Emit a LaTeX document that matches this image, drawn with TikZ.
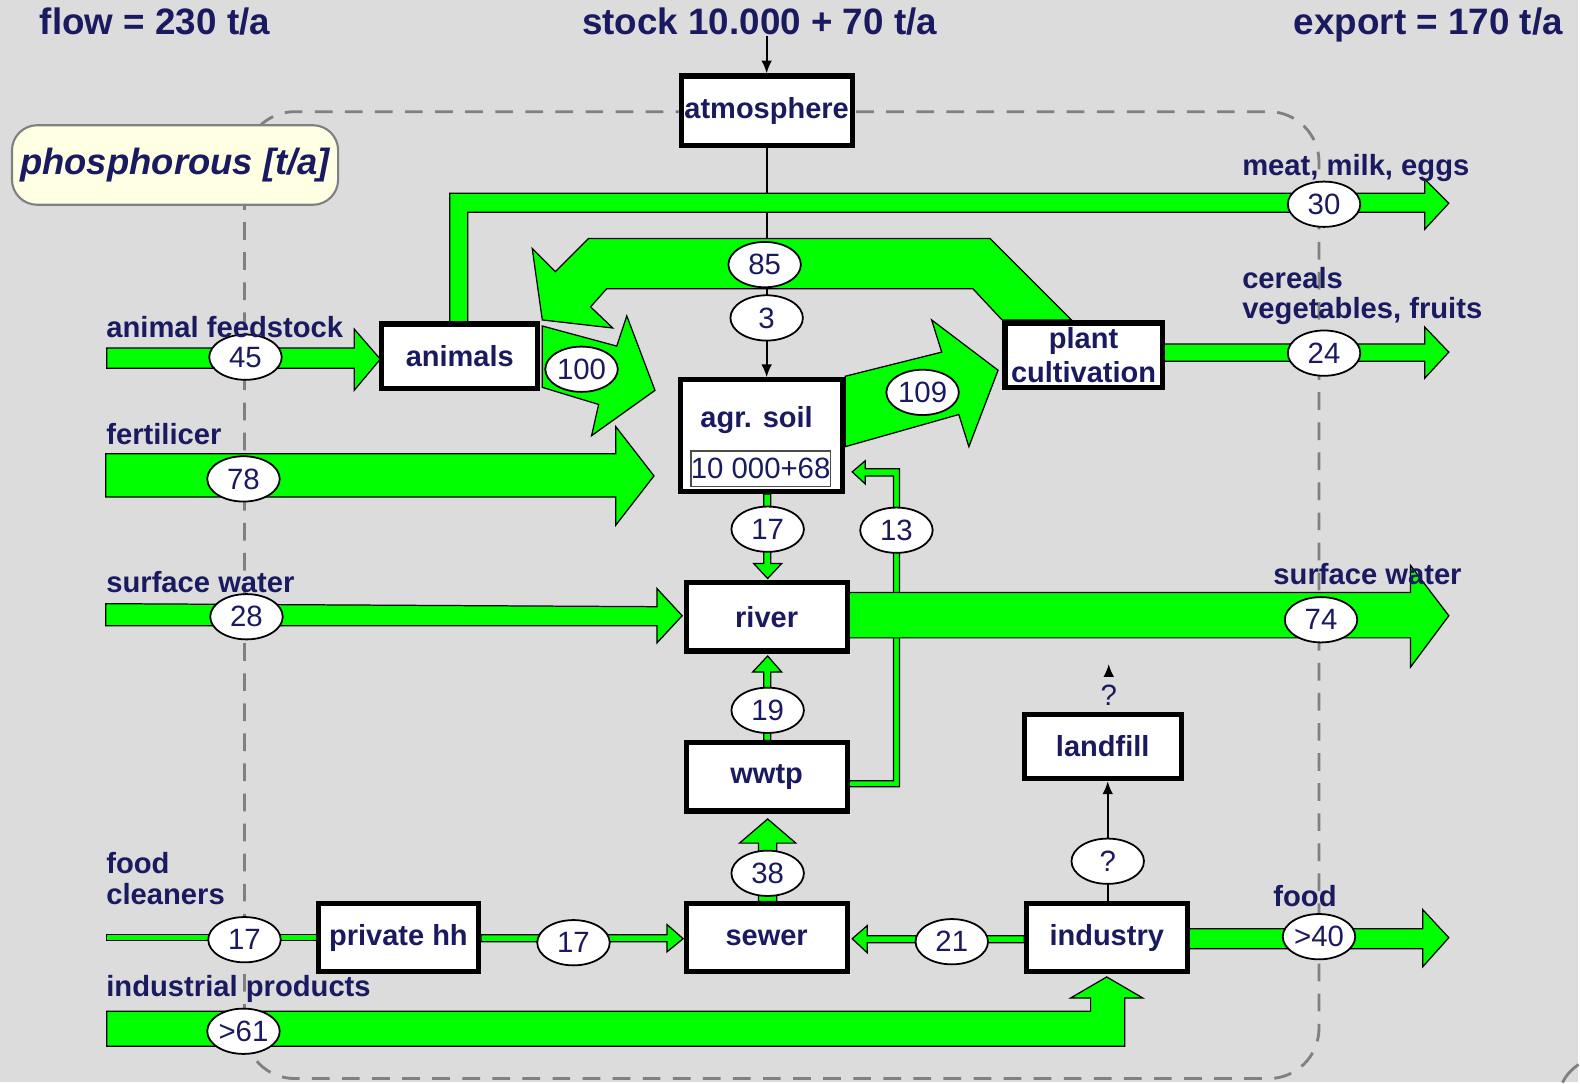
\documentclass[tikz,border=0pt]{standalone}
\usepackage{fontspec}
\setmainfont{Liberation Sans}
\usetikzlibrary{arrows.meta, shapes.geometric, backgrounds}

\definecolor{navy}{RGB}{26,26,96}
\definecolor{slide}{RGB}{220,220,220}
\definecolor{cream}{RGB}{255,255,228}
\definecolor{dashgray}{RGB}{128,128,128}

\begin{document}
\begin{tikzpicture}[x=0.01cm, y=-0.01cm,
    box/.style={draw=black, line width=1.45pt, fill=white, text=navy, inner sep=0pt,
        align=center, font=\fontsize{8.2}{9.7}\selectfont\bfseries},
    num/.style={ellipse, draw=black, line width=0.5pt, fill=white, text=navy, inner sep=0pt,
        minimum width=0.72cm, minimum height=0.45cm, font=\fontsize{8.3}{10}\selectfont},
    sidetext/.style={anchor=base west, inner sep=0pt, text=navy, align=left,
        font=\fontsize{8.25}{8.7}\selectfont\bfseries},
    headline/.style={inner sep=0pt, text=navy, font=\fontsize{10.4}{12}\selectfont\bfseries},
    stream/.style={fill=green, draw=black, line width=0.35pt},
    pointer/.style={-{Latex[length=3.6pt,width=3pt]}, line width=0.5pt}]

    % Slide and system boundary
    \begin{scope}[on background layer]
        \fill[slide] (0,0) rectangle (1568,1075);
        \draw[dashgray, line width=0.8pt, dash pattern=on 5pt off 3.5pt, rounded corners=0.5cm]
            (243,111) rectangle (1311,1072);
        \draw[dashgray, line width=0.8pt] (1553,1076) .. controls (1557,1068) and (1562,1063) .. (1569,1058);
    \end{scope}
    \useasboundingbox (0,0) rectangle (1568,1075);

    % Titles
    \node[headline, anchor=base west] (flowtitle) at (39,34) {flow = 230 t/a};
    \node[headline, anchor=base] (stocktitle) at (755,34) {stock 10.000 + 70 t/a};
    \node[headline, anchor=base east] (exporttitle) at (1554,34) {export = 170 t/a};
    \node[draw=gray, line width=0.6pt, fill=cream, rounded corners=0.25cm, minimum width=3.24cm,
        minimum height=0.79cm, inner sep=1pt, text=navy, font=\fontsize{10.3}{12}\selectfont\bfseries\itshape]
        (legend) at (174,164) {phosphorous [t/a]};

    % Flows
    \draw[stream] (106,346) -- (352,346) -- (352,327) -- (378,357) -- (352,388) -- (352,366) -- (106,366) -- cycle;
    \draw[stream] (105,451) -- (612,451) -- (612,424) -- (650,473) -- (612,522) -- (612,494) -- (105,494) -- cycle;
    \draw[stream] (105,600) -- (653,603) -- (653,585) -- (678,612) -- (653,639) -- (653,622) -- (105,622) -- cycle;
    \draw[stream] (539,324) -- (613,344) -- (623,314) -- (651,388) -- (588,433) -- (595,402) -- (539,385) -- cycle;
    \draw[stream] (1065,318) -- (984,237) -- (585,237) -- (552,270) -- (529,247) -- (539,318) -- (609,326)
        -- (587,305) -- (603,287) -- (967,287) -- (996,318) -- cycle;
    \draw[stream] (840,374) -- (936,350) -- (926,318) -- (992,368) -- (963,444) -- (953,412) -- (840,444) -- cycle;
    \draw[stream] (447,320) -- (447,192) -- (1416,192) -- (1416,178) -- (1440,202) -- (1416,228) -- (1416,211)
        -- (465,211) -- (465,320) -- cycle;
    \draw[stream] (1157,342) -- (1416,342) -- (1416,325) -- (1440,350) -- (1416,376) -- (1416,359) -- (1157,359) -- cycle;
    \draw[stream] (759,491) -- (766,491) -- (766,560) -- (777,560) -- (763,575) -- (749,560) -- (759,560) -- cycle;
    \draw[stream] (844,776) -- (888,776) -- (888,473) -- (860,473) -- (860,481) -- (847,469) -- (860,458)
        -- (860,466) -- (894,466) -- (894,782) -- (844,782) -- cycle;
    \draw[stream] (844,589) -- (1402,589) -- (1402,562) -- (1440,612) -- (1402,663) -- (1402,634) -- (844,634) -- cycle;
    \draw[stream] (759,736) -- (759,668) -- (748,668) -- (763,652) -- (777,668) -- (766,668) -- (766,736) -- cycle;
    \draw[stream] (754,896) -- (754,838) -- (735,838) -- (763,814) -- (791,838) -- (772,838) -- (772,896) -- cycle;
    \draw[stream] (106,929) -- (315,929) -- (315,935) -- (106,935) -- cycle;
    \draw[stream] (478,929) -- (663,929) -- (663,919) -- (679,933) -- (663,946) -- (663,936) -- (478,936) -- cycle;
    \draw[stream] (1018,930) -- (862,930) -- (862,920) -- (847,933) -- (862,947) -- (862,937) -- (1018,937) -- cycle;
    \draw[stream] (1182,923) -- (1414,923) -- (1414,904) -- (1440,932) -- (1414,961) -- (1414,943) -- (1182,943) -- cycle;
    \draw[stream] (106,1005) -- (1084,1005) -- (1084,992) -- (1064,992) -- (1100,971) -- (1136,992) -- (1118,992)
        -- (1118,1040) -- (106,1040) -- cycle;

    % Processes
    \node[box, minimum width=1.70cm, minimum height=0.69cm] (atmo) at (762,110) {atmosphere};
    \node[box, minimum width=1.55cm, minimum height=0.64cm] (animals) at (457,354) {animals};
    \node[box, minimum width=1.56cm, minimum height=0.64cm] (plant) at (1077,353) {plant\\cultivation};
    \node[box, minimum width=1.61cm, minimum height=1.11cm] (soil) at (757,433) {};
    \node[text=navy, inner sep=0pt, font=\fontsize{8.2}{9.7}\selectfont\bfseries] (soilname) at (752,418) {agr. soil};
    \node[draw=black!70, line width=0.5pt, fill=white, text=navy, inner sep=0pt, minimum width=1.36cm,
        minimum height=0.35cm, font=\fontsize{8.3}{10}\selectfont] (soilstock) at (756,466) {10 000+68};
    \node[box, minimum width=1.60cm, minimum height=0.68cm] (river) at (762,613) {river};
    \node[box, minimum width=1.60cm, minimum height=0.68cm] (wwtp) at (762,772) {wwtp};
    \node[box, minimum width=1.56cm, minimum height=0.64cm] (landfill) at (1096,742) {landfill};
    \node[box, minimum width=1.59cm, minimum height=0.68cm] (privhh) at (396,932) {private hh};
    \node[box, minimum width=1.60cm, minimum height=0.68cm] (sewer) at (762,932) {sewer};
    \node[box, minimum width=1.60cm, minimum height=0.68cm] (industry) at (1100,932) {industry};

    % Flow values
    \node[num] (n45) at (244,355) {45};
    \node[num] (n78) at (242,476) {78};
    \node[num] (n28) at (245,613) {28};
    \node[num] (n17in) at (243,934) {17};
    \node[num] (n61) at (242,1025) {>61};
    \node[num] (n100) at (578,367) {100};
    \node[num] (n85) at (760,263) {85};
    \node[num] (n3) at (762,316) {3};
    \node[num] (n109) at (917,390) {109};
    \node[num] (n17soil) at (763,526) {17};
    \node[num] (n13) at (891,527) {13};
    \node[num] (n74) at (1313,616) {74};
    \node[num] (n19) at (763,706) {19};
    \node[num] (n38) at (763,868) {38};
    \node[num] (n17hh) at (570,937) {17};
    \node[num] (n21) at (946,936) {21};
    \node[num] (nq) at (1101,856) {?};
    \node[num] (n40) at (1311,931) {>40};
    \node[num] (n30) at (1316,203) {30};
    \node[num] (n24) at (1316,351) {24};

    % Thin links
    \begin{scope}[on background layer]
        \draw[pointer] (atmo.south) -- (atmo.south |- soil.north);
        \draw[pointer] (nq |- industry.north) -- (nq |- landfill.south);
    \end{scope}
    \draw[pointer] (atmo.north |- stocktitle.south) -- (atmo.north);
    \node[text=navy, font=\fontsize{8.3}{10}\selectfont] (lfq) at (1102,691) {?};
    \coordinate (lfout) at (1102,660);
    \draw[pointer] (lfq.north) -- (lfout);

    % Labels
    \node[sidetext] (feedtext) at (105,335) {animal feedstock};
    \node[sidetext] (fertext) at (105,442) {fertilicer};
    \node[sidetext] (swin) at (105,589) {surface water};
    \node[sidetext] (foodin) at (105,899) {food\\cleaners};
    \node[sidetext] (indprod) at (105,990) {industrial products};
    \node[sidetext] (meattext) at (1234,174) {meat, milk, eggs};
    \node[sidetext] (cropstext) at (1234,317) {cereals\\vegetables, fruits};
    \node[sidetext] (swout) at (1265,581) {surface water};
    \node[sidetext] (foodout) at (1265,901) {food};
\end{tikzpicture}
\end{document}
